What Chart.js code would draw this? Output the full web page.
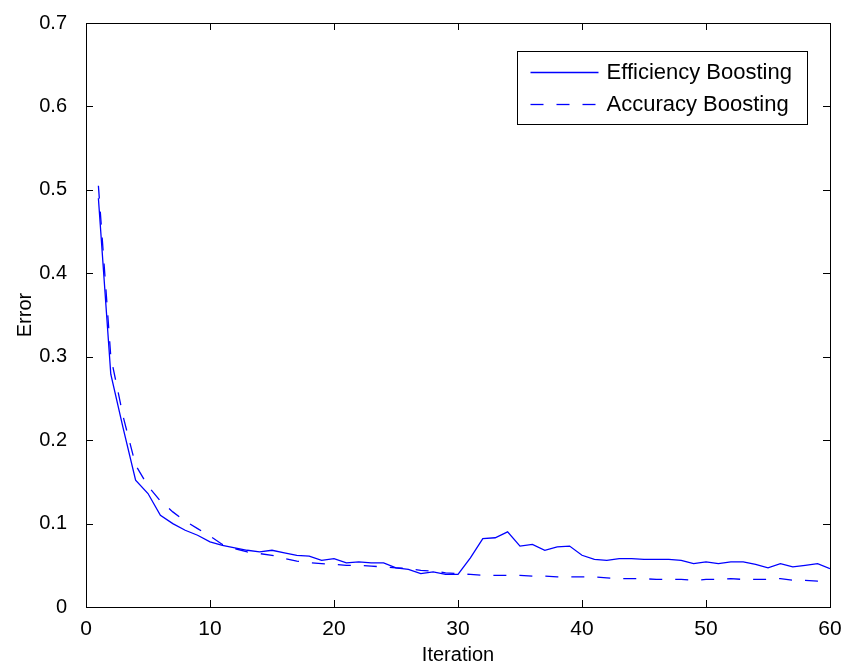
<!DOCTYPE html>
<html>
<head>
<meta charset="utf-8">
<script src="https://cdn.jsdelivr.net/npm/chart.js@4/dist/chart.umd.min.js"></script>
<style>
html,body{margin:0;padding:0;background:#fff;}
#wrap{width:849px;height:670px;}
</style>
</head>
<body>
<div id="wrap"><canvas id="c" width="849" height="670"></canvas></div>
<script>
const iterations = [];
for (let i = 1; i <= 60; i++) iterations.push(i);

const efficiencyBoosting = [
  0.490, 0.279, 0.214, 0.152, 0.136, 0.110, 0.100, 0.092, 0.086, 0.078,
  0.074, 0.071, 0.068, 0.066, 0.068, 0.065, 0.062, 0.061, 0.056, 0.058,
  0.053, 0.054, 0.053, 0.053, 0.047, 0.045, 0.040, 0.042, 0.039, 0.039,
  0.059, 0.082, 0.083, 0.090, 0.073, 0.075, 0.068, 0.072, 0.073, 0.062,
  0.057, 0.056, 0.058, 0.058, 0.057, 0.057, 0.057, 0.056, 0.052, 0.054,
  0.052, 0.054, 0.054, 0.051, 0.047, 0.052, 0.048, 0.050, 0.052, 0.046
];

const accuracyBoosting = [
  0.505, 0.300, 0.228, 0.170, 0.145, 0.127, 0.114, 0.103, 0.094, 0.085,
  0.075, 0.070, 0.066, 0.064, 0.062, 0.058, 0.055, 0.053, 0.052, 0.051,
  0.050, 0.050, 0.049, 0.048, 0.047, 0.046, 0.044, 0.043, 0.041, 0.040,
  0.039, 0.038, 0.038, 0.038, 0.038, 0.037, 0.037, 0.036, 0.036, 0.036,
  0.036, 0.035, 0.034, 0.034, 0.034, 0.033, 0.033, 0.033, 0.032, 0.033,
  0.033, 0.034, 0.033, 0.033, 0.033, 0.034, 0.032, 0.032, 0.031, 0.032
];

const seriesNames = ['Efficiency Boosting', 'Accuracy Boosting'];
const xTicks = [0, 10, 20, 30, 40, 50, 60];
const yTicks = [0, 0.1, 0.2, 0.3, 0.4, 0.5, 0.6, 0.7];

const FONT = '"Liberation Sans", Arial, Helvetica, sans-serif';
Chart.defaults.font.family = FONT;
Chart.defaults.color = '#000';

function pts(arr) { return iterations.map((x, i) => ({ x: x, y: arr[i] })); }

const frameAndTicks = {
  id: 'frameAndTicks',
  afterDatasetsDraw(chart) {
    const { ctx, chartArea: a, scales } = chart;
    const L = 7;
    ctx.save();
    ctx.strokeStyle = '#000';
    ctx.lineWidth = 1;
    ctx.beginPath();
    xTicks.forEach(v => {
      const px = Math.round(scales.x.getPixelForValue(v)) + 0.5;
      ctx.moveTo(px, a.bottom); ctx.lineTo(px, a.bottom - L);
      ctx.moveTo(px, a.top); ctx.lineTo(px, a.top + L);
    });
    yTicks.forEach(v => {
      const py = Math.round(scales.y.getPixelForValue(v)) + 0.5;
      ctx.moveTo(a.left, py); ctx.lineTo(a.left + L, py);
      ctx.moveTo(a.right, py); ctx.lineTo(a.right - L, py);
    });
    ctx.stroke();
    ctx.strokeRect(Math.round(a.left) + 0.5, Math.round(a.top) + 0.5,
                   Math.round(a.right - a.left), Math.round(a.bottom - a.top));
    ctx.restore();
  }
};

const boxLegend = {
  id: 'boxLegend',
  afterDraw(chart) {
    const { ctx, chartArea: a } = chart;
    const w = 290, h = 73;
    const left = Math.round(a.right - 23 - w) + 0.5;
    const top = Math.round(a.top + 28) + 0.5;
    ctx.save();
    ctx.fillStyle = '#fff';
    ctx.fillRect(left, top, w, h);
    ctx.strokeStyle = '#000';
    ctx.lineWidth = 1;
    ctx.strokeRect(left, top, w, h);
    ctx.font = '22px ' + FONT;
    ctx.textBaseline = 'middle';
    ctx.textAlign = 'left';
    chart.data.datasets.forEach((ds, i) => {
      const cy = top + 21 + i * 32;
      ctx.strokeStyle = ds.borderColor;
      ctx.lineWidth = ds.borderWidth;
      ctx.setLineDash(ds.borderDash || []);
      ctx.beginPath();
      ctx.moveTo(left + 13, cy);
      ctx.lineTo(left + 81, cy);
      ctx.stroke();
      ctx.setLineDash([]);
      ctx.fillStyle = '#000';
      ctx.fillText(ds.label, left + 89, cy);
    });
    ctx.restore();
  }
};

new Chart(document.getElementById('c'), {
  type: 'line',
  data: {
    datasets: [
      {
        label: seriesNames[0],
        data: pts(efficiencyBoosting),
        borderColor: '#0000ff',
        borderWidth: 1.3,
        pointRadius: 0,
        tension: 0,
        fill: false
      },
      {
        label: seriesNames[1],
        data: pts(accuracyBoosting),
        borderColor: '#0000ff',
        borderWidth: 1.3,
        borderDash: [13, 13],
        pointRadius: 0,
        tension: 0,
        fill: false
      }
    ]
  },
  options: {
    responsive: false,
    animation: false,
    devicePixelRatio: 1,
    layout: { padding: { top: 19, right: 19, left: 0, bottom: 0 } },
    plugins: { legend: { display: false }, tooltip: { enabled: false } },
    scales: {
      x: {
        type: 'linear',
        min: 0, max: 60,
        afterFit(s) { s.height = 63; },
        afterBuildTicks(s) { s.ticks = xTicks.map(v => ({ value: v })); },
        grid: { display: false },
        border: { display: false },
        ticks: { font: { size: 21 }, padding: 2, maxRotation: 0, autoSkip: false,
                 callback: v => String(v) },
        title: { display: true, text: 'Iteration', font: { size: 20 }, padding: { top: 0, bottom: 3 } }
      },
      y: {
        type: 'linear',
        min: 0, max: 0.7,
        afterFit(s) { s.width = 86; },
        afterBuildTicks(s) { s.ticks = yTicks.map(v => ({ value: v })); },
        grid: { display: false },
        border: { display: false },
        ticks: { font: { size: 20 }, padding: 11, autoSkip: false,
                 callback: v => (v === 0 ? '0' : v.toFixed(1)) },
        title: { display: true, text: 'Error', font: { size: 20 }, padding: { top: 13, bottom: 0 } }
      }
    }
  },
  plugins: [frameAndTicks, boxLegend]
});
</script>
</body>
</html>
